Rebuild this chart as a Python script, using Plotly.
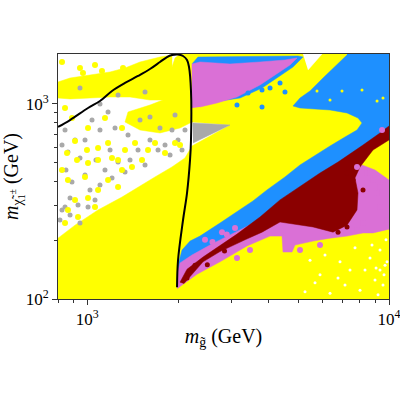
import numpy as np
import plotly.graph_objects as go

# ---- data (GeV) ----
yellow_main_x = [800, 800, 911, 1086, 1304, 1473, 1677, 1909, 2108, 2224, 2972, 2224, 2030, 1742, 1496, 1334, 1365, 1614, 1852, 1895, 1954, 2030, 10000, 10000]
yellow_main_y = [100, 205, 239, 286, 333, 375, 422, 475, 528, 608, 779, 807, 752, 709, 734, 807, 908, 986, 1071, 1491, 1717, 1800, 1800, 100]

yellow_band_x = [800, 877, 1021, 1190, 1334, 1496, 1742, 1909, 1909, 1614, 1386, 1190, 1021, 877, 800]
yellow_band_y = [1294, 1356, 1405, 1456, 1526, 1638, 1737, 1779, 1046, 1046, 1084, 1084, 1071, 1059, 1071]

gray_patch_x = [2241, 2972, 2241]
gray_patch_y = [798, 779, 630]

blue_fringe_x = [2224, 2328, 4994, 5188, 4807, 4287, 3795, 3208, 2754, 2364]
blue_fringe_y = [1600, 1737, 1758, 1737, 1544, 1373, 1205, 1071, 1034, 1046]

pink_top_x = [2224, 2224, 2364, 2972, 3737, 4522, 4956, 4698, 4190, 3737, 3135, 2692, 2364]
pink_top_y = [952, 1600, 1638, 1600, 1638, 1677, 1717, 1581, 1405, 1249, 1084, 1010, 963]

white_notch_x = [5188, 5999, 5391]
white_notch_y = [1800, 1800, 1491]

blue_main_x = [7258, 10000, 10000, 8853, 8016, 6777, 5071, 4353, 3737, 3135, 2419, 2141, 1999, 1999, 2061, 2191,
               2364, 2754, 3208, 3542, 3942, 4522, 5071, 5773, 6376, 7149, 7834, 8139, 7894, 7258, 6376, 5071,
               4807, 5071, 5473, 6044, 6624, 7258]
blue_main_y = [1800, 1800, 701, 615, 547, 469, 341, 296, 248, 205, 158, 138, 114, 149, 178, 198,
               210, 245, 286, 318, 362, 422, 486, 553, 608, 676, 734, 798, 846, 898, 930, 952,
               975, 1071, 1164, 1356, 1563, 1779]

pink_low_x = [1984, 2311, 2754, 3384, 4033, 4420, 4454, 4771, 4881, 5600, 6376, 7258, 8202, 8853, 10000, 10000,
              8988, 8139, 7715, 5071, 4353, 3737, 3208, 2552, 2224, 2030, 1984]
pink_low_y = [113, 134, 155, 187, 210, 210, 174, 174, 189, 198, 205, 210, 218, 218, 228, 407,
              458, 486, 458, 341, 303, 254, 226, 189, 168, 153, 133]

darkred_x = [10000, 9338, 8202, 6777, 5907, 5071, 4353, 3737, 3135, 2419, 2141, 2030,
             2093, 2419, 2754, 3333, 3795, 4353, 5600, 6523, 7258, 7834, 7894, 7715, 8016, 8853, 10000]
darkred_y = [770, 709, 615, 503, 442, 379, 322, 263, 215, 164, 142, 122,
             120, 155, 175, 201, 220, 248, 234, 220, 239, 286, 349, 417, 475, 580, 653]

gray_dots_x = [825, 863, 911, 946, 850, 890, 983, 1021, 877, 932, 825, 1006, 1061, 1102, 1145, 1069, 1190, 1265,
               1208, 1334, 1386, 1473, 1554, 1614, 1716, 1810, 1881, 1742, 1909, 1999, 2061, 1496, 1365, 1236,
               1102, 1037, 1172, 877, 946, 1614, 1954, 2108, 844, 983, 946, 1102, 1265, 1554, 812, 844]
gray_dots_y = [615, 567, 653, 528, 458, 398, 432, 362, 329, 303, 286, 296, 322, 384, 458, 516, 580, 503,
               417, 447, 516, 580, 486, 653, 580, 615, 547, 752, 734, 653, 580, 826, 692, 752,
               734, 826, 908, 269, 245, 856, 877, 734, 734, 653, 1205, 998, 1110, 1150, 254, 296]

yellow_dots_x = [857, 925, 998, 1006, 1086, 1172, 1265, 1334, 1440, 863, 983, 1086, 1172, 1265, 911, 1006, 863,
                 932, 844, 1061, 825, 1304, 1407, 1519, 1590, 1677, 1810, 1954, 2030, 890, 1006, 1145, 1304,
                 911, 1086, 1208, 1061, 1119, 946, 1614, 1314, 968, 844, 825]
yellow_dots_y = [560, 516, 580, 498, 516, 630, 516, 580, 630, 407, 422, 362, 407, 375, 322, 329, 286,
                 263, 245, 296, 458, 458, 475, 516, 580, 630, 560, 630, 615, 846, 752, 846, 752,
                 645, 594, 528, 1581, 1473, 1526, 1581, 1526, 1439, 952, 1638]

blue_dots_x = [4353, 4522, 4033, 3795, 3410, 3135, 3795]
blue_dots_y = [1279, 1150, 1205, 1177, 1136, 986, 963]

yellow_specks_x = [5773, 6987, 8139, 9128, 9555, 6376]
yellow_specks_y = [1164, 1164, 1177, 1034, 1071, 1046]

white_specks_x = [5473, 6137, 6881, 7715, 8652, 9338, 9701, 8988, 8016, 7149, 6376, 5907, 8328, 9555, 8784,
                  7427, 6777, 5268, 5686, 9776, 9198, 9338, 9627, 9851, 9059]
white_specks_y = [158, 168, 155, 183, 162, 178, 149, 125, 111, 118, 107, 133, 141, 118, 189,
                  141, 128, 109, 121, 201, 105, 141, 133, 155, 144]

pink_dots_x = [7834, 8456, 8853, 9338, 8456, 9128, 9338, 9851, 8202, 8652, 9555, 7834, 9483, 3135, 3463, 5071,
               5907, 2456, 2796, 3088, 2600, 2900]
pink_dots_y = [475, 442, 407, 375, 393, 349, 296, 254, 245, 442, 407, 226, 734, 162, 178, 178,
               189, 201, 220, 231, 196, 214]

darkred_dots_x = [7258, 7599, 8202, 7258, 6777, 2141, 2276, 2500, 2850]
darkred_dots_y = [442, 407, 362, 234, 220, 128, 149, 150, 176]

contour_x = [800, 877, 1006, 1102, 1208, 1334, 1473, 1614, 1742, 1838, 1909, 1999, 2077, 2141, 2174, 2207,
             2207, 2191, 2141, 2077, 1999, 1984]
contour_y = [761, 826, 952, 1034, 1164, 1279, 1389, 1508, 1638, 1737, 1779, 1790, 1758, 1677, 1544, 1164,
             653, 516, 349, 254, 158, 115]

YELLOW = "#FFFF00"
PINK = "#DA70D6"
BLUE = "#1E90FF"
DARKRED = "#8B0000"
GRAY = "#A9A9A9"

fig = go.Figure()


def poly(x, y, c):
    fig.add_trace(go.Scatter(x=x, y=y, mode="lines", fill="toself", fillcolor=c,
                             line=dict(width=0.5, color=c), hoverinfo="skip", showlegend=False))


def dots(x, y, c, s):
    fig.add_trace(go.Scatter(x=x, y=y, mode="markers", marker=dict(color=c, size=s, line=dict(width=0)),
                             hoverinfo="skip", showlegend=False))


poly(yellow_main_x, yellow_main_y, YELLOW)
poly(yellow_band_x, yellow_band_y, YELLOW)
dots(gray_dots_x, gray_dots_y, GRAY, 5)
dots(yellow_dots_x, yellow_dots_y, YELLOW, 6)
poly(gray_patch_x, gray_patch_y, GRAY)
poly(blue_fringe_x, blue_fringe_y, BLUE)
poly(pink_top_x, pink_top_y, PINK)
poly(white_notch_x, white_notch_y, "#FFFFFF")
poly(blue_main_x, blue_main_y, BLUE)
poly(pink_low_x, pink_low_y, PINK)
poly(darkred_x, darkred_y, DARKRED)
dots(blue_dots_x, blue_dots_y, BLUE, 5)
dots(yellow_specks_x, yellow_specks_y, YELLOW, 3)
dots(white_specks_x, white_specks_y, "#FFFFFF", 3)
dots(pink_dots_x, pink_dots_y, PINK, 6)
dots(darkred_dots_x, darkred_dots_y, DARKRED, 5)
fig.add_trace(go.Scatter(x=contour_x, y=contour_y, mode="lines", line=dict(color="black", width=2, shape="spline"),
                         hoverinfo="skip", showlegend=False))

FONT = "Liberation Serif"
xminor = [800, 900, 2000, 3000, 4000, 5000, 6000, 7000, 8000, 9000]
yminor = [200, 300, 400, 500, 600, 700, 800, 900]

fig.update_layout(
    width=400, height=400,
    margin=dict(l=58, r=11, t=54, b=101),
    paper_bgcolor="white", plot_bgcolor="white",
    font=dict(family=FONT, size=17, color="black"),
    xaxis=dict(type="log", range=[np.log10(800), 4], tickvals=[1000, 10000], automargin=False,
               ticklabeloverflow="allow", ticklabelstandoff=0,
               ticktext=["10<sup>3</sup>", "10<sup>4</sup>"], ticks="outside", ticklen=5,
               tickcolor="#333", minor=dict(tickvals=xminor, ticks="outside", ticklen=3, tickcolor="#333"),
               showline=True, linecolor="#333", linewidth=1, mirror=True, showgrid=False, zeroline=False,
               title=dict(text="<i>m</i><sub>g\u0303</sub> (GeV)", standoff=0)),
    yaxis=dict(type="log", range=[2, np.log10(1800)], tickvals=[100, 1000], automargin=False,
               ticklabeloverflow="allow",
               ticktext=["10<sup>2</sup>", "10<sup>3</sup>"], ticks="outside", ticklen=5,
               tickcolor="#333", minor=dict(tickvals=yminor, ticks="outside", ticklen=3, tickcolor="#333"),
               showline=True, linecolor="#333", linewidth=1, mirror=True, showgrid=False, zeroline=False,
               title=dict(text="<i>m</i><sub>\u03c7\u0303<sub>1</sub><sup>\u00b1</sup></sub> (GeV)", standoff=6)),
)

fig.write_html("out.html")
